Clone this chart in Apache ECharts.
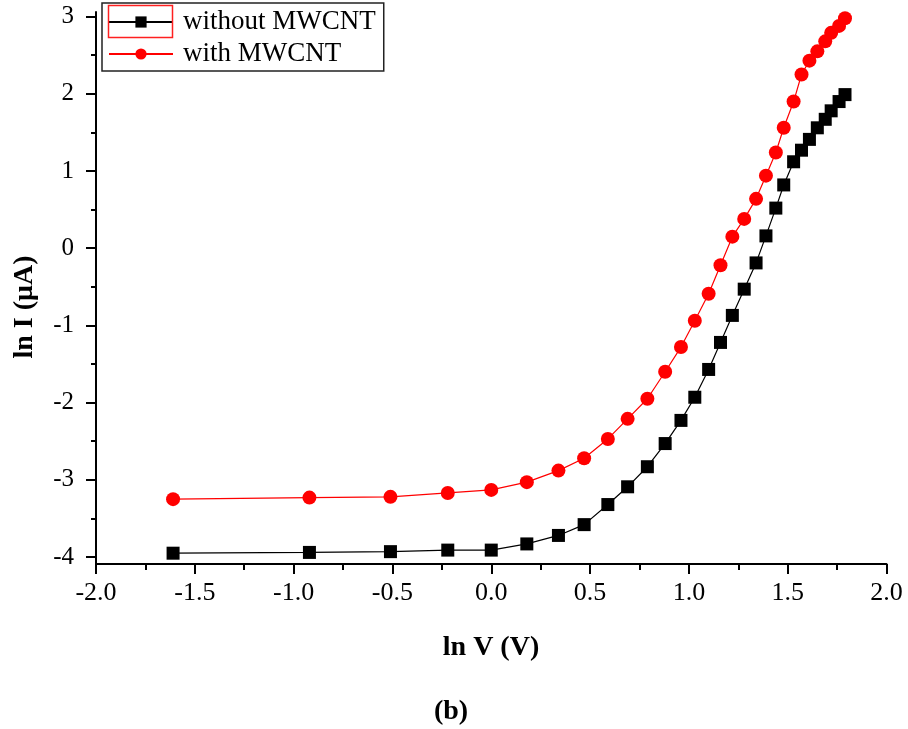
<!DOCTYPE html>
<html>
<head>
<meta charset="utf-8">
<script src="https://cdn.jsdelivr.net/npm/echarts@6/dist/echarts.min.js"></script>
<style>
  html, body { margin: 0; padding: 0; background: #fff; }
  #chart { width: 908px; height: 729px; }
</style>
</head>
<body>
<div id="chart"></div>
<script>
// ln V (V) for the measured bias points
const lnV = [-1.61, -0.92, -0.51, -0.22, 0.00, 0.18, 0.34, 0.47, 0.59, 0.69,
             0.79, 0.88, 0.96, 1.03, 1.10, 1.16, 1.22, 1.28, 1.34, 1.39,
             1.44, 1.48, 1.53, 1.57, 1.61, 1.65, 1.69, 1.72, 1.76, 1.79];

// ln I (uA)
const lnI_without = [-3.95, -3.94, -3.93, -3.91, -3.91, -3.83, -3.72, -3.58, -3.32, -3.09,
                     -2.83, -2.53, -2.23, -1.93, -1.57, -1.22, -0.87, -0.53, -0.19, 0.16,
                     0.52, 0.82, 1.12, 1.27, 1.41, 1.56, 1.67, 1.78, 1.90, 1.99];
const lnI_with = [-3.25, -3.23, -3.22, -3.17, -3.13, -3.03, -2.88, -2.72, -2.47, -2.21,
                  -1.95, -1.60, -1.28, -0.94, -0.59, -0.22, 0.15, 0.38, 0.64, 0.94,
                  1.24, 1.56, 1.90, 2.25, 2.43, 2.55, 2.68, 2.79, 2.88, 2.98];

const seriesNames = ['without MWCNT', 'with MWCNT'];
const yMajorTicks = [-4, -3, -2, -1, 0, 1, 2, 3];
const yMinorTicks = [-3.5, -2.5, -1.5, -0.5, 0.5, 1.5, 2.5];

const xTitle = 'ln V (V)';
const yTitle = 'ln I (\u03BCA)';
const panelLabel = '(b)';

const FONT = '"Liberation Serif", "Times New Roman", serif';
const Y_MIN = -4.09, Y_MAX = 3.06;

const pair = (xs, ys) => xs.map((x, i) => [x, ys[i]]);

const chart = echarts.init(document.getElementById('chart'), null, { renderer: 'canvas' });

chart.setOption({
  backgroundColor: '#fff',
  animation: false,
  grid: { left: 96, right: 21.5, top: 12, bottom: 165 },
  xAxis: {
    type: 'value', min: -2, max: 2, interval: 0.5,
    axisLine: { onZero: false, lineStyle: { color: '#000', width: 2 } },
    axisTick: { inside: false, length: 10, lineStyle: { color: '#000', width: 2 } },
    minorTick: { show: true, splitNumber: 2, length: 6, lineStyle: { color: '#000', width: 2 } },
    splitLine: { show: false },
    axisLabel: {
      margin: 16, fontFamily: FONT, fontSize: 26, color: '#000',
      formatter: v => v.toFixed(1)
    }
  },
  yAxis: [
    {
      // major ticks, labels and the axis line
      type: 'value', min: Y_MIN, max: Y_MAX, position: 'left',
      splitLine: { show: false },
      axisLine: { show: true, onZero: false, lineStyle: { color: '#000', width: 2 } },
      axisTick: { show: true, length: 10, customValues: yMajorTicks, lineStyle: { color: '#000', width: 2 } },
      axisLabel: { show: true, customValues: yMajorTicks, margin: 22, fontFamily: FONT, fontSize: 25, color: '#000',
                   formatter: v => String(Math.round(v)) }
    },
    {
      // half-step minor ticks
      type: 'value', min: Y_MIN, max: Y_MAX, position: 'left',
      splitLine: { show: false },
      axisLine: { show: false, onZero: false },
      axisTick: { show: true, length: 5, customValues: yMinorTicks, lineStyle: { color: '#000', width: 2 } },
      axisLabel: { show: false }
    }
  ],
  legend: {
    orient: 'vertical', left: 102, top: 3,
    itemWidth: 64, itemHeight: 14, itemGap: 2,
    padding: [4, 8, 2, 6],
    borderColor: '#222', borderWidth: 1.5, backgroundColor: '#fff',
    textStyle: { fontFamily: FONT, fontSize: 27, color: '#000', lineHeight: 30, padding: [0, 0, 0, 5] },
    data: seriesNames
  },
  series: [
    {
      name: seriesNames[0], type: 'line', data: pair(lnV, lnI_without),
      symbol: 'rect', symbolSize: 13,
      itemStyle: { color: '#000' },
      lineStyle: { color: '#000', width: 1.2 }
    },
    {
      name: seriesNames[1], type: 'line', data: pair(lnV, lnI_with),
      symbol: 'circle', symbolSize: 14,
      itemStyle: { color: '#ff0000' },
      lineStyle: { color: '#ff0000', width: 1.2 }
    }
  ],
  graphic: [
    { type: 'rect', shape: { x: 108.5, y: 5.5, width: 64, height: 32 },
      style: { fill: 'none', stroke: '#ff2020', lineWidth: 1.5 }, z: 200 },
    { type: 'text', x: 491, y: 648,
      style: { text: xTitle, font: 'bold 28px ' + FONT, fill: '#000', textAlign: 'center', textVerticalAlign: 'middle' } },
    { type: 'text', x: 25, y: 307, rotation: Math.PI / 2,
      style: { text: yTitle, font: 'bold 28px ' + FONT, fill: '#000', textAlign: 'center', textVerticalAlign: 'middle' } },
    { type: 'text', x: 451, y: 712,
      style: { text: panelLabel, font: 'bold 28px ' + FONT, fill: '#000', textAlign: 'center', textVerticalAlign: 'middle' } }
  ]
});
</script>
</body>
</html>
